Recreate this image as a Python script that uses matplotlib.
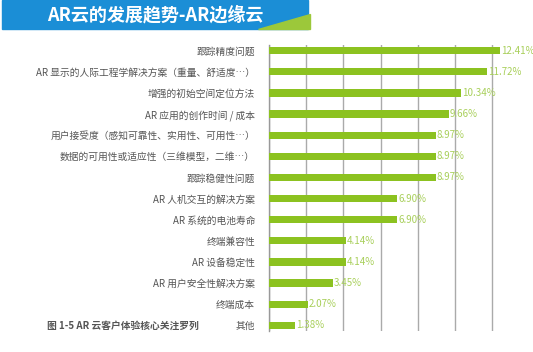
import matplotlib
matplotlib.use('Agg')
import matplotlib.pyplot as plt
from matplotlib.patches import Rectangle, Polygon

plt.rcParams['font.family'] = ['Noto Sans CJK SC', 'DejaVu Sans']

title = 'AR云的发展趋势-AR边缘云'
caption = '图 1-5 AR 云客户体验核心关注罗列'

categories = [
    '跟踪精度问题',
    'AR 显示的人际工程学解决方案（重量、舒适度…）',
    '增强的初始空间定位方法',
    'AR 应用的创作时间 / 成本',
    '用户接受度（感知可靠性、实用性、可用性…）',
    '数据的可用性或适应性（三维模型，二维…）',
    '跟踪稳健性问题',
    'AR 人机交互的解决方案',
    'AR 系统的电池寿命',
    '终端兼容性',
    'AR 设备稳定性',
    'AR 用户安全性解决方案',
    '终端成本',
    '其他',
]
values = [12.41, 11.72, 10.34, 9.66, 8.97, 8.97, 8.97, 6.90, 6.90, 4.14, 4.14, 3.45, 2.07, 1.38]

bar_color = '#8cc220'
label_color = '#a8cf5a'
text_color = '#555555'

fig = plt.figure(figsize=(5.33, 3.52), dpi=100)

# title banner
fig.patches.append(Rectangle((0.004, 1 - 29 / 352), 306 / 533, 29 / 352,
                             transform=fig.transFigure, color='#1b8ed6', zorder=0))
fig.patches.append(Polygon([(258 / 533, 1 - 29 / 352), (310 / 533, 1 - 29 / 352),
                            (310 / 533, 1 - 14 / 352)],
                           transform=fig.transFigure, color='#9cc83a', zorder=1))
fig.text(155 / 533, 1 - 15 / 352, title, color='white', fontsize=13,
         fontweight='bold', ha='center', va='center')

ax = fig.add_axes([269 / 533, 1 - 331 / 352, 14 * 18.6 / 533, 286 / 352])
y = list(range(len(categories)))
ax.barh(y, values, height=0.34, color=bar_color, zorder=3)
for yi, v in zip(y, values):
    ax.text(v + 0.05, yi, '{:.2f}%'.format(v), color=label_color, fontsize=7,
            va='center', ha='left', zorder=4)

ax.set_xlim(0, 14)
ax.set_ylim(13.27, -0.27)
ax.set_xticks(range(0, 13, 2))
ax.set_xticklabels([])
ax.tick_params(axis='x', length=0)
ax.tick_params(axis='y', length=0, pad=10)
ax.set_yticks(y)
ax.set_yticklabels(categories, fontsize=7, color=text_color)
ax.grid(axis='x', color='#aaaaaa', linewidth=1.0, zorder=0)
for s in ['top', 'right', 'bottom']:
    ax.spines[s].set_visible(False)
ax.spines['left'].set_color('#999999')
ax.spines['left'].set_linewidth(1.0)
ax.patch.set_alpha(0)

fig.text(47 / 533, 1 - 326 / 352, caption, color='#555555', fontsize=7,
         fontweight='bold', ha='left', va='center')

fig.savefig('out.png', dpi=100)
